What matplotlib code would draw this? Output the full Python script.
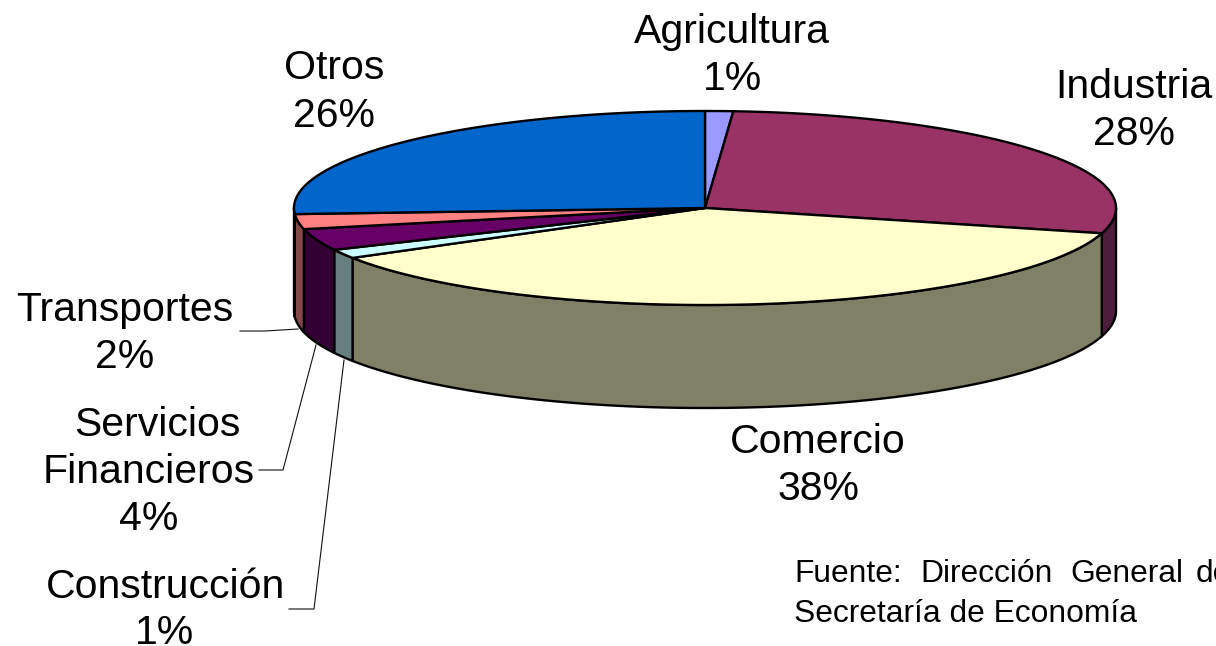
import numpy as np
import matplotlib as mpl
mpl.use('Agg')
import matplotlib.pyplot as plt

plt.rcParams['font.family'] = ['Liberation Sans', 'DejaVu Sans']

# slices clockwise from 12 o'clock, sizes
categories = ['Agricultura', 'Industria', 'Comercio', 'Construcción',
              'Servicios Financieros', 'Transportes', 'Otros']
values = [1.1, 28.1, 37.2, 1.5, 3.6, 2.5, 26.0]
pct_labels = ['1%', '28%', '38%', '1%', '4%', '2%', '26%']
top_colors = ['#9999FF', '#993366', '#FFFFCC', '#CCFFFF', '#660066', '#FF8080', '#0066CC']
side_colors = ['#4D4D80', '#4F1D3C', '#808066', '#668080', '#330033', '#844848', '#003366']

# everything below is in picture pixels
cx, cy, rx, ry, depth = 705, 208, 411, 97, 103
lw = 1.7


def ellipse_xy(a, dy=0):
    a = np.radians(a)
    return cx + rx * np.sin(a), cy - ry * np.cos(a) + dy


fig = plt.figure(figsize=(12.16, 6.46), dpi=100)
ax = fig.add_axes([0, 0, 1, 1])
ax.set_xlim(0, 1216)
ax.set_ylim(646, 0)
ax.axis('off')

edges = np.concatenate([[0], np.cumsum(values)]) / np.sum(values) * 360

# side walls, only the front half (90 to 270 deg) can be seen
for i in range(len(values)):
    a0, a1 = max(edges[i], 90), min(edges[i + 1], 270)
    if a1 <= a0:
        continue
    a = np.linspace(a0, a1, 200)
    xt, yt = ellipse_xy(a)
    xb, yb = ellipse_xy(a, depth)
    ax.fill(np.r_[xt, xb[::-1]], np.r_[yt, yb[::-1]], fc=side_colors[i],
            ec='black', lw=lw, joinstyle='round', zorder=2)

# top face
for i in range(len(values)):
    a = np.linspace(edges[i], edges[i + 1], 200)
    x, y = ellipse_xy(a)
    ax.fill(np.r_[cx, x], np.r_[cy, y], fc=top_colors[i], ec='black', lw=lw,
            joinstyle='round', zorder=3)

# leader lines
ax.plot([240, 265, 298], [331, 331, 329], color='#111111', lw=0.8, zorder=1)
ax.plot([259, 283, 316], [470, 470, 345], color='#111111', lw=0.8, zorder=1)
ax.plot([289, 314, 344], [609, 609, 360], color='#111111', lw=0.8, zorder=1)

fs = 29.5
kw = dict(ha='center', va='center', fontsize=fs, color='black', zorder=5)
ax.text(732, 32, categories[0], **kw)
ax.text(732, 79, pct_labels[0], **kw)
ax.text(1134, 87, categories[1], **kw)
ax.text(1134, 134, pct_labels[1], **kw)
ax.text(818, 442, categories[2], **kw)
ax.text(818, 489, pct_labels[2], **kw)
ax.text(165, 587, categories[3], **kw)
ax.text(165, 633, pct_labels[3], **kw)
ax.text(157, 425, 'Servicios', **kw)
ax.text(149, 472, 'Financieros', **kw)
ax.text(149, 519, pct_labels[4], **kw)
ax.text(125, 310, categories[5], **kw)
ax.text(125, 357, pct_labels[5], **kw)
ax.text(334, 68, categories[6], **kw)
ax.text(334, 116, pct_labels[6], **kw)

# source note, justified first line runs off the right edge
note = dict(ha='left', va='center', fontsize=22.9, color='black', zorder=5)
ax.text(794, 574, 'Fuente:', **note)
ax.text(920, 574, 'Dirección', **note)
ax.text(1070, 574, 'General', **note)
ax.text(1196, 574, 'de', **note)
ax.text(794, 614, 'Secretaría de Economía', **note)

plt.savefig('out.png', dpi=100)
